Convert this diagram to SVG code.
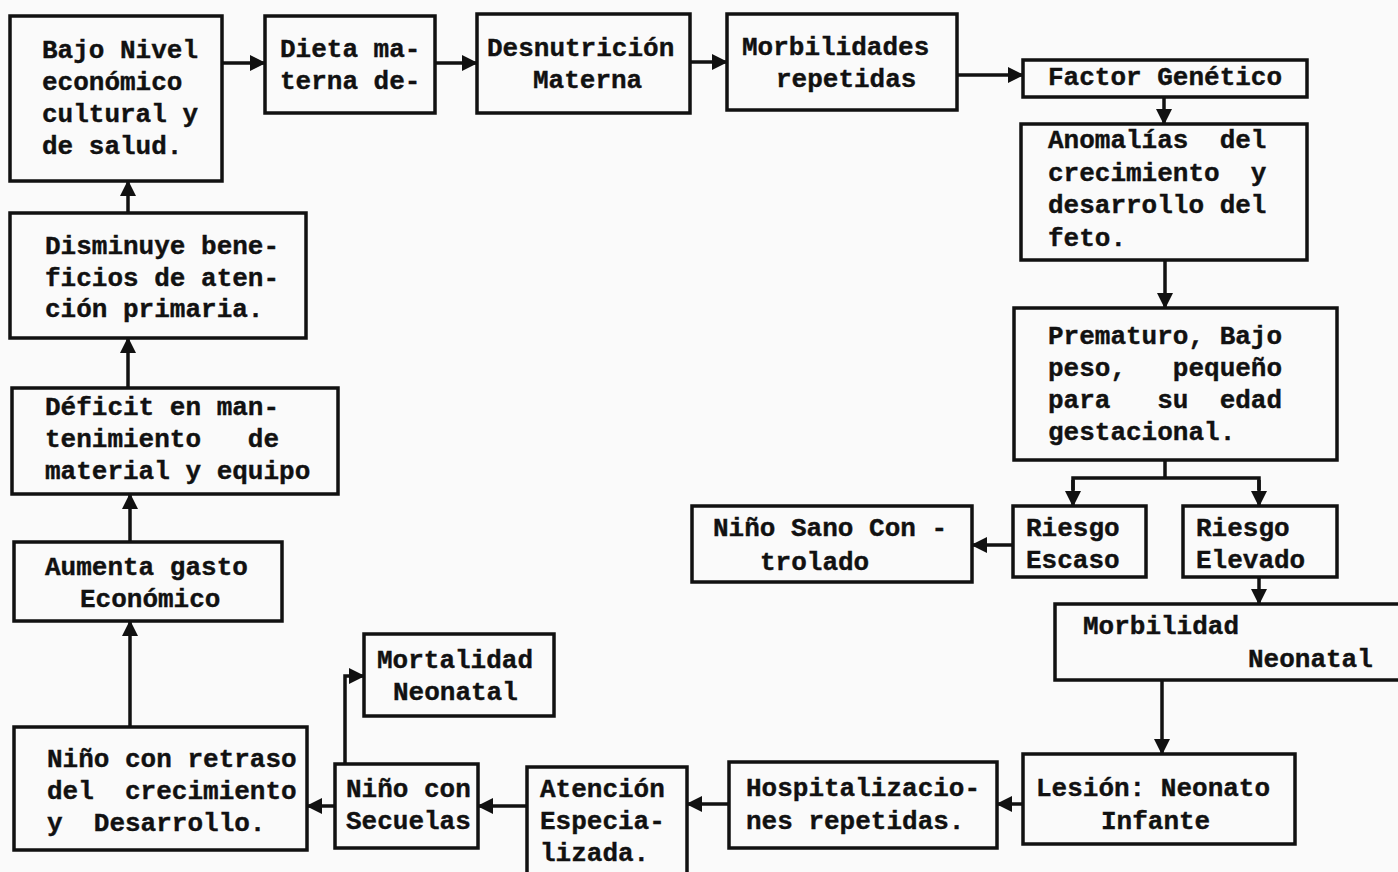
<svg xmlns="http://www.w3.org/2000/svg" width="1398" height="872" viewBox="0 0 1398 872" xml:space="preserve">
  <style>
    .box { fill: none; stroke: #111; stroke-width: 3.5; }
    .lbl { font-family: "Liberation Mono", "Courier New", monospace; font-weight: bold; font-size: 26px; fill: #111; stroke: #111; stroke-width: 0.4; white-space: pre; }
    .wire { fill: none; stroke: #111; stroke-width: 3.5; }
  </style>
  <defs>
    <marker id="head" markerUnits="userSpaceOnUse" markerWidth="16" markerHeight="16" refX="15" refY="8" orient="auto">
      <path d="M0,0 L16,8 L0,16 z" fill="#111"/>
    </marker>
  </defs>
  <rect width="1398" height="872" fill="#fafafa"/>

  <!-- connectors -->
  <g id="connectors">
    <line class="wire" x1="222" y1="63" x2="265" y2="63" marker-end="url(#head)"/>
    <line class="wire" x1="435" y1="63" x2="477" y2="63" marker-end="url(#head)"/>
    <line class="wire" x1="690" y1="62" x2="727" y2="62" marker-end="url(#head)"/>
    <line class="wire" x1="957" y1="75" x2="1023" y2="75" marker-end="url(#head)"/>
    <line class="wire" x1="1164" y1="97" x2="1164" y2="124" marker-end="url(#head)"/>
    <line class="wire" x1="1165" y1="260" x2="1165" y2="308" marker-end="url(#head)"/>
    <polyline class="wire" points="1165,460 1165,478"/>
    <polyline class="wire" points="1073,490 1073,478 1259,478 1259,490"/>
    <line class="wire" x1="1073" y1="480" x2="1073" y2="506" marker-end="url(#head)"/>
    <line class="wire" x1="1259" y1="480" x2="1259" y2="506" marker-end="url(#head)"/>
    <line class="wire" x1="1013" y1="545" x2="972" y2="545" marker-end="url(#head)"/>
    <line class="wire" x1="1259" y1="577" x2="1259" y2="604" marker-end="url(#head)"/>
    <line class="wire" x1="1162" y1="680" x2="1162" y2="754" marker-end="url(#head)"/>
    <line class="wire" x1="1023" y1="804" x2="997" y2="804" marker-end="url(#head)"/>
    <line class="wire" x1="729" y1="804" x2="687" y2="804" marker-end="url(#head)"/>
    <line class="wire" x1="527" y1="806" x2="478" y2="806" marker-end="url(#head)"/>
    <line class="wire" x1="335" y1="806" x2="307" y2="806" marker-end="url(#head)"/>
    <polyline class="wire" points="345,764 345,676 364,676" marker-end="url(#head)"/>
    <line class="wire" x1="130" y1="727" x2="130" y2="621" marker-end="url(#head)"/>
    <line class="wire" x1="130" y1="542" x2="130" y2="494" marker-end="url(#head)"/>
    <line class="wire" x1="128" y1="388" x2="128" y2="338" marker-end="url(#head)"/>
    <line class="wire" x1="128" y1="213" x2="128" y2="181" marker-end="url(#head)"/>
  </g>

  <g id="bajo-nivel">
    <rect class="box" x="10" y="16" width="212" height="165"/>
    <text class="lbl" x="42" y="58">Bajo Nivel</text>
    <text class="lbl" x="42" y="90">económico</text>
    <text class="lbl" x="42" y="122">cultural y</text>
    <text class="lbl" x="42" y="154">de salud.</text>
  </g>
  <g id="dieta-materna">
    <rect class="box" x="265" y="16" width="170" height="97"/>
    <text class="lbl" x="280" y="57">Dieta ma-</text>
    <text class="lbl" x="280" y="89">terna de-</text>
  </g>
  <g id="desnutricion">
    <rect class="box" x="477" y="14" width="213" height="99"/>
    <text class="lbl" x="487" y="56">Desnutrición</text>
    <text class="lbl" x="533" y="88">Materna</text>
  </g>
  <g id="morbilidades">
    <rect class="box" x="727" y="14" width="230" height="96"/>
    <text class="lbl" x="742" y="55">Morbilidades</text>
    <text class="lbl" x="776" y="87">repetidas</text>
  </g>
  <g id="factor-genetico">
    <rect class="box" x="1023" y="60" width="284" height="37"/>
    <text class="lbl" x="1048" y="85">Factor Genético</text>
  </g>
  <g id="anomalias">
    <rect class="box" x="1021" y="124" width="286" height="136"/>
    <text class="lbl" x="1048" y="148">Anomalías  del</text>
    <text class="lbl" x="1048" y="181">crecimiento  y</text>
    <text class="lbl" x="1048" y="213">desarrollo del</text>
    <text class="lbl" x="1048" y="246">feto.</text>
  </g>
  <g id="prematuro">
    <rect class="box" x="1014" y="308" width="323" height="152"/>
    <text class="lbl" x="1048" y="344">Prematuro, Bajo</text>
    <text class="lbl" x="1048" y="376">peso,   pequeño</text>
    <text class="lbl" x="1048" y="408">para   su  edad</text>
    <text class="lbl" x="1048" y="440">gestacional.</text>
  </g>
  <g id="riesgo-escaso">
    <rect class="box" x="1013" y="506" width="133" height="71"/>
    <text class="lbl" x="1026" y="536">Riesgo</text>
    <text class="lbl" x="1026" y="568">Escaso</text>
  </g>
  <g id="riesgo-elevado">
    <rect class="box" x="1183" y="506" width="154" height="71"/>
    <text class="lbl" x="1196" y="536">Riesgo</text>
    <text class="lbl" x="1196" y="568">Elevado</text>
  </g>
  <g id="nino-sano">
    <rect class="box" x="692" y="506" width="280" height="76"/>
    <text class="lbl" x="713" y="536">Niño Sano Con -</text>
    <text class="lbl" x="760" y="570">trolado</text>
  </g>
  <g id="morbilidad-neonatal">
    <rect class="box" x="1055" y="604" width="350" height="76"/>
    <text class="lbl" x="1083" y="634">Morbilidad</text>
    <text class="lbl" x="1248" y="667">Neonatal</text>
  </g>
  <g id="lesion">
    <rect class="box" x="1023" y="754" width="272" height="90"/>
    <text class="lbl" x="1036" y="796">Lesión: Neonato</text>
    <text class="lbl" x="1101" y="829">Infante</text>
  </g>
  <g id="hospitalizaciones">
    <rect class="box" x="729" y="762" width="268" height="86"/>
    <text class="lbl" x="746" y="796">Hospitalizacio-</text>
    <text class="lbl" x="746" y="829">nes repetidas.</text>
  </g>
  <g id="atencion-especializada">
    <rect class="box" x="527" y="767" width="160" height="115"/>
    <text class="lbl" x="540" y="797">Atención</text>
    <text class="lbl" x="540" y="829">Especia-</text>
    <text class="lbl" x="540" y="861">lizada.</text>
  </g>
  <g id="nino-secuelas">
    <rect class="box" x="335" y="764" width="143" height="84"/>
    <text class="lbl" x="346" y="797">Niño con</text>
    <text class="lbl" x="346" y="829">Secuelas</text>
  </g>
  <g id="mortalidad-neonatal">
    <rect class="box" x="364" y="634" width="190" height="82"/>
    <text class="lbl" x="377" y="668">Mortalidad</text>
    <text class="lbl" x="393" y="700">Neonatal</text>
  </g>
  <g id="nino-retraso">
    <rect class="box" x="14" y="727" width="293" height="123"/>
    <text class="lbl" x="47" y="767">Niño con retraso</text>
    <text class="lbl" x="47" y="799">del  crecimiento</text>
    <text class="lbl" x="47" y="831">y  Desarrollo.</text>
  </g>
  <g id="aumenta-gasto">
    <rect class="box" x="14" y="542" width="268" height="79"/>
    <text class="lbl" x="45" y="575">Aumenta gasto</text>
    <text class="lbl" x="80" y="607">Económico</text>
  </g>
  <g id="deficit">
    <rect class="box" x="12" y="388" width="326" height="106"/>
    <text class="lbl" x="45" y="415">Déficit en man-</text>
    <text class="lbl" x="45" y="447">tenimiento   de</text>
    <text class="lbl" x="45" y="479">material y equipo</text>
  </g>
  <g id="disminuye">
    <rect class="box" x="10" y="213" width="296" height="125"/>
    <text class="lbl" x="45" y="254">Disminuye bene-</text>
    <text class="lbl" x="45" y="286">ficios de aten-</text>
    <text class="lbl" x="45" y="317">ción primaria.</text>
  </g>
</svg>
